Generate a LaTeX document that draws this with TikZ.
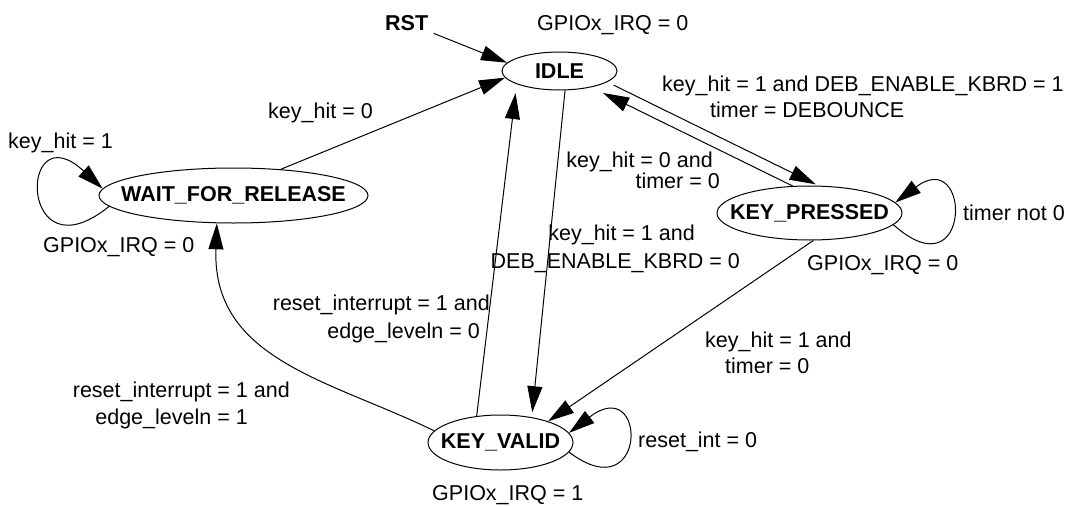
\documentclass[tikz,border=0pt]{standalone}
\usepackage{fontspec}
\setmainfont{Liberation Sans}
\usetikzlibrary{shapes.geometric,arrows.meta}
\begin{document}
\begin{tikzpicture}[x=1pt,y=-1pt,
  state/.style={draw,ellipse,line width=1pt,inner sep=0pt,font=\fontsize{21.5}{26}\selectfont\bfseries},
  lbl/.style={inner sep=0pt,anchor=base west,font=\fontsize{21.5}{26}\selectfont},
  lble/.style={lbl,anchor=base east},
  tr/.style={line width=1pt,-{Triangle[length=26pt,width=15pt]}}]
\fill[white] (0,0) rectangle (1092,506);
\useasboundingbox (0,0) rectangle (1092,506);

% states
\node[state,minimum width=115pt,minimum height=38pt] (idle) at (559.5,71) {\makebox[0pt]{IDLE}};
\node[state,minimum width=269pt,minimum height=55pt] (wait) at (233.5,195.5) {\makebox[0pt]{WAIT\_FOR\_RELEASE}};
\node[state,minimum width=185pt,minimum height=54pt] (kp) at (809.5,213) {\makebox[0pt]{KEY\_PRESSED}};
\node[state,minimum width=145pt,minimum height=55pt] (kv) at (500.5,442.5) {\makebox[0pt]{KEY\_VALID}};

% texts
\node[lbl,font=\fontsize{21.5}{26}\selectfont\bfseries] (rst) at (385,30) {RST};
\node[lbl] (o1) at (537,30) {GPIOx\_IRQ = 0};
\node[lbl] (t1) at (268,118) {key\_hit = 0};
\node[lbl] (t2) at (8,148) {key\_hit = 1};
\node[lbl] (o2) at (43,252) {GPIOx\_IRQ = 0};
\node[lbl] (t3a) at (662,91) {key\_hit = 1 and DEB\_ENABLE\_KBRD = 1};
\node[lbl] (t3b) at (710,117) {timer = DEBOUNCE};
\node[lble] (t4a) at (713,167) {key\_hit = 0 and};
\node[lble] (t4b) at (720,188) {timer = 0};
\node[lbl] (t5) at (963,220) {timer not 0};
\node[lbl] (o3) at (807,270) {GPIOx\_IRQ = 0};
\node[lble] (t6a) at (695,240) {key\_hit = 1 and};
\node[lble] (t6b) at (740,268) {DEB\_ENABLE\_KBRD = 0};
\node[lble] (t7a) at (490,310) {reset\_interrupt = 1 and};
\node[lble] (t7b) at (480,338) {edge\_leveln = 0};
\node[lble] (t8a) at (290,397) {reset\_interrupt = 1 and};
\node[lble] (t8b) at (248,424) {edge\_leveln = 1};
\node[lbl] (t9a) at (705,347) {key\_hit = 1 and};
\node[lbl] (t9b) at (725,373) {timer = 0};
\node[lbl] (t10) at (638,447) {reset\_int = 0};
\node[lbl] (o4) at (432,500) {GPIOx\_IRQ = 1};

% transitions
\draw[tr,shorten <=8pt] (rst) -- (idle.171);
\draw[tr] (wait.29) -- (idle.187);
\draw[tr,shorten <=7pt,shorten >=3pt] (idle.347) -- (kp.72);
\draw[tr,shorten >=13pt] (kp.122) -- (idle.333);
\draw[tr,shorten >=5pt] (idle.286) -- (kv.39);
\draw[tr,shorten >=9pt] (kv.132) -- (idle.197);
\draw[tr] (kp.278) -- (kv.24);
\draw[tr] (kv.170) .. controls (330,380) and (212,360) .. (wait.239);
\draw[tr] (wait.185) .. controls (18,280) and (18,110) .. (wait.177);
\draw[tr] (kp.352) .. controls (972,295) and (972,145) .. (kp.7);
\draw[tr] (kv.352) .. controls (648,512) and (648,372) .. (kv.8);
\end{tikzpicture}
\end{document}
